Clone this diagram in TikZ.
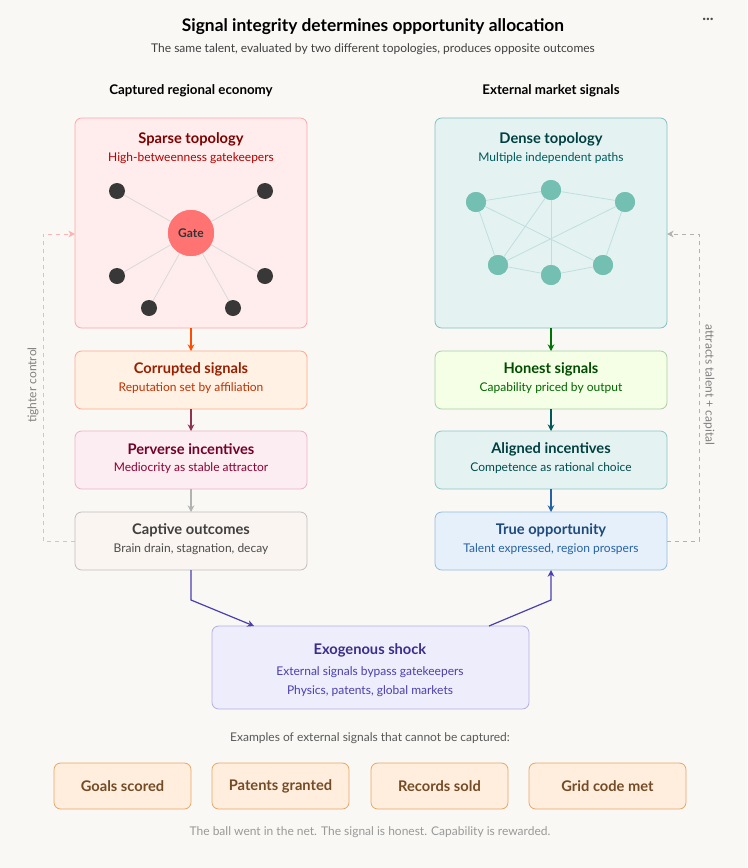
\documentclass[tikz,border=0pt]{standalone}
\usepackage{fontspec}
\setmainfont{Lato}
\usetikzlibrary{arrows.meta}
\definecolor{bg}{HTML}{F9F8F4}
\definecolor{vio}{HTML}{4A3FB0}
\definecolor{viod}{HTML}{3A2E8A}
\definecolor{viofill}{HTML}{EEEDFB}
\definecolor{viostroke}{HTML}{B3ADE6}
\definecolor{bluet}{HTML}{1D4A7A}
\definecolor{blues}{HTML}{2662A6}
\definecolor{bluefill}{HTML}{E6F0FA}
\definecolor{bluestroke}{HTML}{93BBE0}
\begin{document}
\begin{tikzpicture}[x=0.75pt,y=-0.75pt,
 box/.style={draw=#1,rounded corners=5pt,line width=0.6pt},
 ttl/.style={font=\fontsize{11}{13}\selectfont\bfseries},
 sub/.style={font=\fontsize{9}{11}\selectfont},
 arr/.style={-{Stealth[length=5pt,width=5pt]},line width=0.9pt},
 dk/.style={circle,fill=black!78,inner sep=0pt,minimum size=12pt},
 gn/.style={circle,fill=green!10!teal!55!white,inner sep=0pt,minimum size=15pt},
 ex/.style={draw=brown!55!orange!70,fill=orange!13,rounded corners=5pt,line width=0.6pt,minimum width=102.75pt,minimum height=34.5pt,font=\fontsize{11}{13}\selectfont\bfseries,text=brown!60!black}]
\fill[bg] (0,0) rectangle (747,868);
\node (title) at (373,27) {\fontsize{13}{15}\selectfont\bfseries Signal integrity determines opportunity allocation};
\node[sub,text=black!75] (subt) at (373,49) {The same talent, evaluated by two different topologies, produces opposite outcomes};
\node[text=black!70,font=\fontsize{12}{12}\selectfont\bfseries] (dots) at (708,19) {...};
\node[ttl,font=\fontsize{10}{12}\selectfont\bfseries] (lh) at (191,91) {Captured regional economy};
\node[ttl,font=\fontsize{10}{12}\selectfont\bfseries] (rh) at (551,91) {External market signals};
% left big box
\draw[box=red!35,fill=red!7] (75,118) rectangle (307,328);
\node[ttl,text=red!50!black] (lt) at (191,139) {Sparse topology};
\node[sub,text=red!70!black] (ls) at (191,158) {High-betweenness gatekeepers};
\node[circle,fill=red!55!white,minimum size=34.5pt,inner sep=0pt,font=\fontsize{9}{11}\selectfont\bfseries,text=black!80] (gate) at (191,233) {Gate};
\foreach \n/\p in {a/{(117,191)},b/{(265,191)},c/{(117,276)},d/{(265,276)},e/{(149,308)},f/{(233,308)}}{
 \node[dk] (\n) at \p {};
 \draw[black!15,line width=0.6pt] (gate) -- (\n);}
\node[circle,fill=red!55!white,minimum size=34.5pt,inner sep=0pt,font=\fontsize{9}{11}\selectfont\bfseries,text=black!80] at (gate) {Gate};
% right big box
\draw[box=teal!50,fill=teal!10] (435,118) rectangle (667,328);
\node[ttl,text=teal!50!black] (rt) at (551,139) {Dense topology};
\node[sub,text=teal!70!black] (rs) at (551,158) {Multiple independent paths};
\node[gn] (A) at (476,202) {};\node[gn] (B) at (551,190) {};\node[gn] (C) at (625,202) {};
\node[gn] (D) at (498,265) {};\node[gn] (E) at (551,275) {};\node[gn] (F) at (603,265) {};
\foreach \u/\v in {A/B,B/C,A/D,D/E,E/F,F/C,A/F,B/D,B/E,C/D}{\draw[teal!25,line width=0.6pt] (\u) -- (\v);}
\foreach \n in {A,B,C,D,E,F}{\node[gn] at (\n) {};}
% left chain
\draw[box=orange!45!red!45,fill=orange!10] (75,351) rectangle (307,409);
\node[ttl,text=orange!40!red!60!black] (c1) at (191,369) {Corrupted signals};
\node[sub,text=orange!50!red!75!black] (c1s) at (191,388) {Reputation set by affiliation};
\draw[box=purple!30,fill=purple!7] (75,431) rectangle (307,489);
\node[ttl,text=purple!60!black] (c2) at (191,449) {Perverse incentives};
\node[sub,text=purple!75!black] (c2s) at (191,468) {Mediocrity as stable attractor};
\draw[box=black!25,fill=brown!8] (75,512) rectangle (307,570);
\node[ttl,text=black!75] (c3) at (191,530) {Captive outcomes};
\node[sub,text=black!70] (c3s) at (191,549) {Brain drain, stagnation, decay};
\coordinate (l0) at (191,328);\coordinate (l1t) at (191,351);\coordinate (l1b) at (191,409);
\coordinate (l2t) at (191,431);\coordinate (l2b) at (191,489);\coordinate (l3t) at (191,512);\coordinate (l3b) at (191,570);
\draw[arr,orange!60!red] (l0) -- (l1t);
\draw[arr,purple!60!black!80] (l1b) -- (l2t);
\draw[arr,black!30] (l2b) -- (l3t);
% right chain
\draw[box=green!45!black!35,fill=green!40!yellow!10] (435,351) rectangle (667,409);
\node[ttl,text=green!30!black] (d1) at (551,369) {Honest signals};
\node[sub,text=green!40!black] (d1s) at (551,388) {Capability priced by output};
\draw[box=teal!45,fill=teal!10] (435,431) rectangle (667,489);
\node[ttl,text=teal!50!black] (d2) at (551,449) {Aligned incentives};
\node[sub,text=teal!60!black] (d2s) at (551,468) {Competence as rational choice};
\draw[box=bluestroke,fill=bluefill] (435,512) rectangle (667,570);
\node[ttl,text=bluet] (d3) at (551,530) {True opportunity};
\node[sub,text=blues] (d3s) at (551,549) {Talent expressed, region prospers};
\coordinate (r0) at (551,328);\coordinate (r1t) at (551,351);\coordinate (r1b) at (551,409);
\coordinate (r2t) at (551,431);\coordinate (r2b) at (551,489);\coordinate (r3t) at (551,512);\coordinate (r3b) at (551,570);
\draw[arr,green!45!black] (r0) -- (r1t);
\draw[arr,teal!70!black] (r1b) -- (r2t);
\draw[arr,blues] (r2b) -- (r3t);
% exogenous
\draw[box=viostroke,fill=viofill] (212,626) rectangle (529,709);
\node[ttl,text=viod] (x1) at (370,650) {Exogenous shock};
\node[sub,text=vio] (x2) at (370,672) {External signals bypass gatekeepers};
\node[sub,text=vio] (x3) at (370,691) {Physics, patents, global markets};
\coordinate (xl) at (254,626);\coordinate (xr) at (489,626);
\draw[arr,vio] (l3b) -- (191,600) -- (xl);
\draw[arr,vio] (xr) -- (551,600) -- (r3b);
% feedback
\coordinate (fl0) at (75,541);\coordinate (fl1) at (75,234);
\draw[arr,red!30,dashed,line width=0.6pt] (fl0) -- (43,541) -- (43,234) -- (fl1);
\node[sub,text=black!50,rotate=90] (tc) at (33,385) {tighter control};
\coordinate (fr0) at (667,541);\coordinate (fr1) at (667,234);
\draw[arr,black!30,dashed,line width=0.6pt] (fr0) -- (699,541) -- (699,234) -- (fr1);
\node[sub,text=black!50,rotate=-90] (at) at (709,385) {attracts talent + capital};
% examples
\node[sub,text=black!65] (exh) at (370,738) {Examples of external signals that cannot be captured:};
\node[ex] (g1) at (122.5,786) {Goals scored};
\node[ex] (g2) at (280.5,786) {Patents granted};
\node[ex] (g3) at (439.5,786) {Records sold};
\node[ex,minimum width=117.75pt] (g4) at (607.5,786) {Grid code met};
\node[sub,text=black!40] (foot) at (370,832) {The ball went in the net. The signal is honest. Capability is rewarded.};
\end{tikzpicture}
\end{document}
